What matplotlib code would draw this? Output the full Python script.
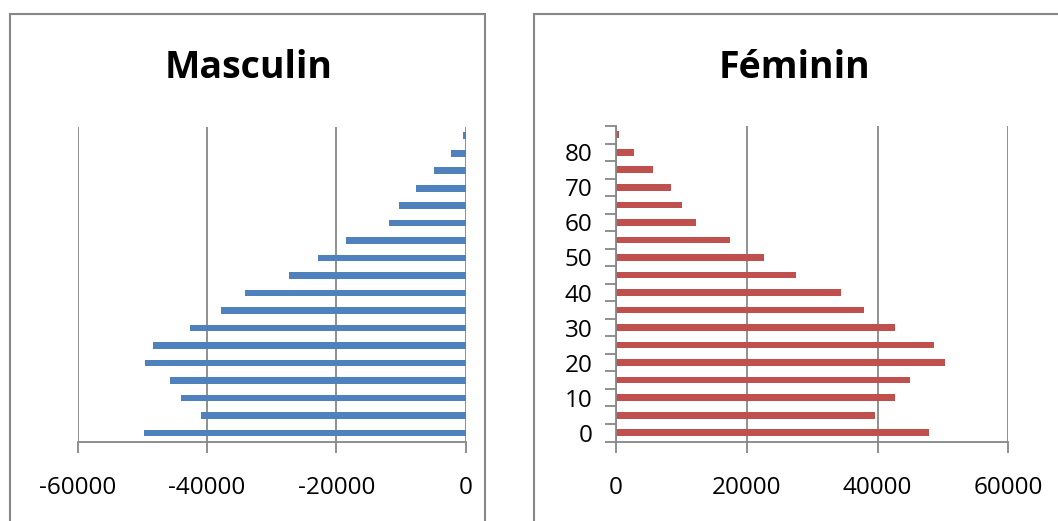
import numpy as np
import matplotlib.pyplot as plt
from matplotlib.patches import Rectangle

plt.rcParams['font.family'] = ['Open Sans', 'DejaVu Sans']

# age groups 0-4, 5-9, ... 85+
ages = [0, 5, 10, 15, 20, 25, 30, 35, 40, 45, 50, 55, 60, 65, 70, 75, 80, 85]
masculin = [-49800, -40900, -44100, -45700, -49600, -48400, -42600, -37800, -34100,
            -27400, -22800, -18500, -11900, -10300, -7700, -4900, -2300, -400]
feminin = [47800, 39600, 42700, 45000, 50300, 48700, 42700, 37900, 34400,
           27600, 22700, 17500, 12200, 10100, 8400, 5600, 2700, 500]
age_labels = ['0', '10', '20', '30', '40', '50', '60', '70', '80']
x_left = [-60000, -40000, -20000, 0]
x_right = [0, 20000, 40000, 60000]

grey = '#878787'
W, H = 1058, 521
fig = plt.figure(figsize=(W / 100, H / 100), dpi=100)

# chart frames
for x0, x1 in [(10, 485), (534, 1070)]:
    fig.patches.append(Rectangle((x0 / W, -0.1), (x1 - x0) / W, 1.1 - 14 / H,
                                 transform=fig.transFigure, fill=False,
                                 edgecolor=grey, linewidth=1.5))

pos = np.arange(len(ages))


def style(ax, xt, xlim):
    ax.set_xlim(*xlim)
    ax.set_ylim(-0.5, len(ages) - 0.5)
    ax.set_xticks(xt)
    ax.set_xticklabels([str(v) for v in xt])
    ax.grid(axis='x', color=grey, linewidth=1.3)
    ax.set_axisbelow(True)
    for s in ['top', 'right', 'left']:
        ax.spines[s].set_visible(False)
    ax.spines['bottom'].set_color(grey)
    ax.spines['bottom'].set_linewidth(1.3)
    ax.tick_params(axis='x', length=8, width=1.3, color=grey, pad=17, labelsize=17.5)


axl = fig.add_axes([77.7 / W, 1 - 441.7 / H, 388 / W, 314.7 / H])
axl.barh(pos, masculin, height=0.38, color='#4F81BD')
style(axl, x_left, (-60000, 0))
axl.set_yticks([])
fig.text(249 / W, 1 - 68 / H, 'Masculin', ha='center', va='center',
         fontsize=27, fontweight='bold')

axr = fig.add_axes([616 / W, 1 - 441.5 / H, 392.3 / W, 315.5 / H])
axr.barh(pos, feminin, height=0.38, color='#C0504D')
style(axr, x_right, (0, 60000))
axr.spines['left'].set_visible(True)
axr.spines['left'].set_color(grey)
axr.spines['left'].set_linewidth(1.3)
axr.set_yticks(np.arange(-0.5, len(ages), 1))
axr.set_yticklabels([])
axr.set_yticks(pos[::2], minor=True)
axr.set_yticklabels(age_labels, minor=True)
axr.tick_params(axis='y', which='major', length=8, width=1.3, color=grey)
axr.tick_params(axis='y', which='minor', length=0, pad=17, labelsize=17.5)
fig.text(794 / W, 1 - 68 / H, 'Féminin', ha='center', va='center',
         fontsize=27, fontweight='bold')

fig.savefig('out.png', dpi=100)
